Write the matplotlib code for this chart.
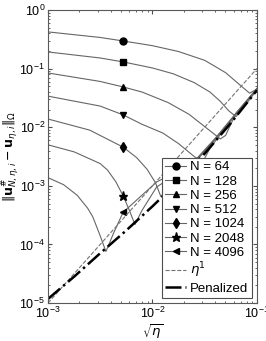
import numpy as np
import matplotlib
matplotlib.use("Agg")
import matplotlib.pyplot as plt

plt.rcParams['font.family'] = ['Liberation Sans', 'DejaVu Sans']
plt.rcParams['mathtext.fontset'] = 'dejavusans'

# log10 values: x = sqrt(eta), y = error
labels = ['N = 64', 'N = 128', 'N = 256', 'N = 512', 'N = 1024', 'N = 2048', 'N = 4096']
markers = ['o', 's', '^', 'v', 'd', '*', '<']

x64 = [-3, -2.5, -2.28, -2.0, -1.75, -1.5, -1.3, -1.15, -1.07, -1.0]
y64 = [-0.375, -0.47, -0.53, -0.61, -0.71, -0.86, -1.07, -1.30, -1.42, -1.35]

x128 = [-3, -2.5, -2.28, -2.0, -1.8, -1.6, -1.45, -1.35, -1.27, -1.2, -1.1, -1.0]
y128 = [-0.717, -0.82, -0.887, -0.99, -1.09, -1.24, -1.40, -1.56, -1.72, -1.82, -1.60, -1.36]

x256 = [-3, -2.5, -2.28, -2.1, -1.85, -1.65, -1.45, -1.35, -1.3, -1.2, -1.0]
y256 = [-1.075, -1.22, -1.314, -1.40, -1.58, -1.78, -2.06, -2.20, -2.14, -1.76, -1.35]

x512 = [-3, -2.5, -2.28, -2.1, -1.9, -1.75, -1.6, -1.52, -1.45, -1.2, -1.0]
y512 = [-1.47, -1.64, -1.79, -1.95, -2.10, -2.28, -2.50, -2.60, -2.36, -1.77, -1.34]

x1024 = [-3, -2.6, -2.28, -2.15, -2.05, -1.97, -1.92, -1.85, -1.6, -1.4, -1.2, -1.0]
y1024 = [-1.86, -2.05, -2.34, -2.52, -2.72, -2.95, -3.18, -3.05, -2.58, -2.19, -1.76, -1.34]

x2048 = [-3, -2.75, -2.5, -2.43, -2.35, -2.28, -2.22, -2.167, -2.1, -2.03, -1.96,
         -1.9, -1.8, -1.6, -1.4, -1.2, -1.0]
y2048 = [-2.30, -2.42, -2.62, -2.73, -2.93, -3.17, -3.42, -3.66, -3.42, -3.22, -3.02,
         -2.95, -2.98, -2.60, -2.20, -1.77, -1.35]

x4096 = [-3, -2.85, -2.72, -2.62, -2.57, -2.5, -2.445, -2.37, -2.28, -2.1, -1.957,
         -1.9, -1.8, -1.6, -1.4, -1.2, -1.0]
y4096 = [-2.86, -2.98, -3.16, -3.38, -3.53, -3.85, -4.12, -3.80, -3.45, -3.16, -2.93,
         -2.88, -2.95, -2.61, -2.21, -1.78, -1.36]

mark_idx = [2, 2, 2, 2, 2, 5, 8]

x_pen = [-3, -2.75, -2.5, -2.25, -2.0, -1.75, -1.5, -1.25, -1.0]
y_pen = [-4.93, -4.55, -4.15, -3.76, -3.35, -2.92, -2.45, -1.93, -1.37]

x_eta = [-3, -1]
y_eta = [-5, -1]

xs = [x64, x128, x256, x512, x1024, x2048, x4096]
ys = [y64, y128, y256, y512, y1024, y2048, y4096]

fig = plt.figure(figsize=(2.66, 3.41), dpi=100)
ax = fig.add_axes([0.18, 0.111, 0.786, 0.86])

for xv, yv, lab, m, mi in zip(xs, ys, labels, markers, mark_idx):
    ms = 6.5 if m == '*' else (5.5 if m == 'd' else 5)
    ax.plot(np.power(10.0, xv), np.power(10.0, yv), '-', color='0.4', lw=0.8,
            marker=m, markevery=[mi], ms=ms, mfc='k', mec='k', label=lab)

ax.plot(np.power(10.0, x_eta), np.power(10.0, y_eta), '--', color='0.45', lw=0.8,
        label=r'$\eta^1$')
ax.plot(np.power(10.0, x_pen), np.power(10.0, y_pen), '-.', color='k', lw=1.8,
        label='Penalized')

ax.set_xscale('log')
ax.set_yscale('log')
ax.set_xlim(1e-3, 1e-1)
ax.set_ylim(1e-5, 1e0)
ax.tick_params(which='both', direction='in', top=True, right=True, labelsize=9,
               color='0.3', pad=2)
ax.tick_params(which='major', length=3)
ax.tick_params(which='minor', length=1.5)
for s in ax.spines.values():
    s.set_color('0.35')

ax.set_xlabel(r'$\sqrt{\eta}$', fontsize=9.5, labelpad=0)
ax.xaxis.set_label_coords(0.5, -0.066)
ax.set_ylabel(r'$\|\mathbf{u}^{\#}_{N,\eta,i}-\mathbf{u}_{\eta,i}\|_\Omega$',
              fontsize=9)
ax.yaxis.set_label_coords(-0.125, 0.5)

leg = ax.legend(loc='lower right', fontsize=9.5, fancybox=False, framealpha=1,
                edgecolor='0.3', handlelength=1.6, borderpad=0.25,
                labelspacing=0.15, handletextpad=0.3, borderaxespad=0.4)
leg.get_frame().set_linewidth(0.8)

fig.savefig('out.png', dpi=100)
